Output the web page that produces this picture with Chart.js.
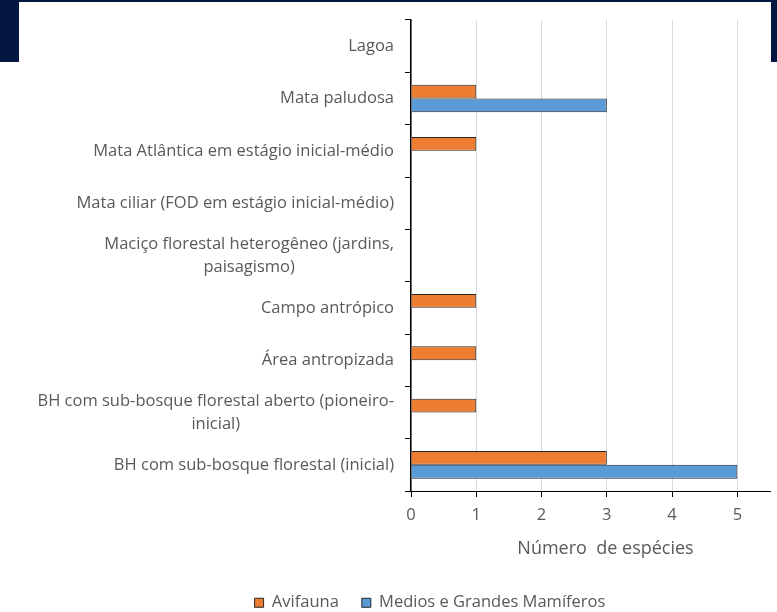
<!DOCTYPE html>
<html lang="pt">
<head>
<meta charset="utf-8">
<title>Número de espécies por fitofisionomia</title>
<script src="https://cdn.jsdelivr.net/npm/chart.js@4.4.1/dist/chart.umd.min.js"></script>
<style>
  html, body { margin: 0; padding: 0; background: #fff; }
  body { width: 777px; height: 612px; position: relative; overflow: hidden; }
  .band { position: absolute; background: #031640; }
  #band-top { left: 0; top: 0; width: 777px; height: 2px; }
  #band-left { left: 0; top: 0; width: 19px; height: 62px; }
  #band-right { left: 771px; top: 0; width: 6px; height: 62px; }
  #wrap { position: absolute; left: 0; top: 0; width: 777px; height: 612px; }
</style>
</head>
<body>
<div class="band" id="band-top"></div>
<div class="band" id="band-left"></div>
<div class="band" id="band-right"></div>
<div id="wrap"><canvas id="chart"></canvas></div>

<script>
// ---- data ----
const categories = [
  'Lagoa',
  'Mata paludosa',
  'Mata Atlântica em estágio inicial-médio',
  'Mata ciliar (FOD em estágio inicial-médio)',
  ['Maciço florestal heterogêneo (jardins,', 'paisagismo)'],
  'Campo antrópico',
  'Área antropizada',
  ['BH com sub-bosque florestal aberto (pioneiro-', 'inicial)'],
  'BH com sub-bosque florestal (inicial)'
];
const seriesNames = ['Avifauna', 'Medios e Grandes Mamíferos'];
const avifauna  = [null, 1, 1, null, null, 1, 1, 1, 3];
const mamiferos = [null, 3, null, null, null, null, null, null, 5];
const xTicks = [0, 1, 2, 3, 4, 5];
const xTitle = 'Número  de espécies';

// ---- look ----
const TEXT = '#595959';
const FAMILY = "'Open Sans', 'Noto Sans', sans-serif";
const Y_AXIS_X = 411;     // where the category axis sits
const PLOT_BOTTOM = 491;  // where the value axis sits
const PAD = { top: 20, right: 7, left: 90, bottom: -9 };

// category labels: single lines right aligned, wrapped ones centred on each other
const categoryLabels = {
  id: 'categoryLabels',
  afterDraw(chart) {
    const { ctx } = chart;
    const y = chart.scales.y;
    const right = Y_AXIS_X - 17;
    ctx.save();
    ctx.font = '16.5px ' + FAMILY;
    ctx.fillStyle = TEXT;
    ctx.textAlign = 'center';
    ctx.textBaseline = 'middle';
    categories.forEach((label, i) => {
      const lines = Array.isArray(label) ? label : [label];
      const widest = Math.max(...lines.map(l => ctx.measureText(l).width));
      const cx = right - widest / 2;
      const yc = y.getPixelForValue(i);
      lines.forEach((line, k) => {
        ctx.fillText(line, cx, yc + (k - (lines.length - 1) / 2) * 23);
      });
    });
    ctx.restore();
  }
};

// value axis title, sitting a little right of the plot centre
const axisTitle = {
  id: 'axisTitle',
  afterDraw(chart) {
    const { ctx, chartArea } = chart;
    ctx.save();
    ctx.font = '18px ' + FAMILY;
    ctx.fillStyle = TEXT;
    ctx.textAlign = 'center';
    ctx.textBaseline = 'middle';
    ctx.fillText(xTitle, (chartArea.left + chartArea.right) / 2 + 15, 549);
    ctx.restore();
  }
};

new Chart(document.getElementById('chart'), {
  type: 'bar',
  data: {
    labels: categories,
    datasets: [
      { label: seriesNames[0], data: avifauna, backgroundColor: '#ED7D31', borderColor: '#262626', borderWidth: 1 },
      { label: seriesNames[1], data: mamiferos, backgroundColor: '#5B9BD5', borderColor: '#262626', borderWidth: 1 }
    ]
  },
  options: {
    indexAxis: 'y',
    responsive: true,
    maintainAspectRatio: false,
    animation: false,
    layout: { padding: PAD },
    datasets: { bar: { categoryPercentage: 0.53, barPercentage: 1 } },
    scales: {
      x: {
        min: 0,
        max: 5.5,
        afterBuildTicks: s => { s.ticks = xTicks.map(v => ({ value: v })); },
        ticks: { color: TEXT, font: { family: FAMILY, size: 16.5 }, padding: 8 },
        grid: { color: '#d9d9d9', tickColor: '#000', tickLength: 6 },
        border: { color: '#000', width: 1 },
        afterFit: s => {
          const c = s.chart;
          s.height = c.height - PAD.bottom - c.legend.height - PLOT_BOTTOM;
        }
      },
      y: {
        ticks: { display: false },
        grid: { drawOnChartArea: false, color: '#000', tickLength: 6 },
        border: { color: '#000', width: 1.5 },
        afterFit: s => { s.width = Y_AXIS_X - PAD.left; }
      }
    },
    plugins: {
      legend: {
        position: 'bottom',
        labels: {
          boxWidth: 9,
          boxHeight: 9,
          padding: 23,
          color: TEXT,
          font: { family: FAMILY, size: 16.5 }
        }
      },
      tooltip: { enabled: false }
    }
  },
  plugins: [categoryLabels, axisTitle]
});
</script>
</body>
</html>
